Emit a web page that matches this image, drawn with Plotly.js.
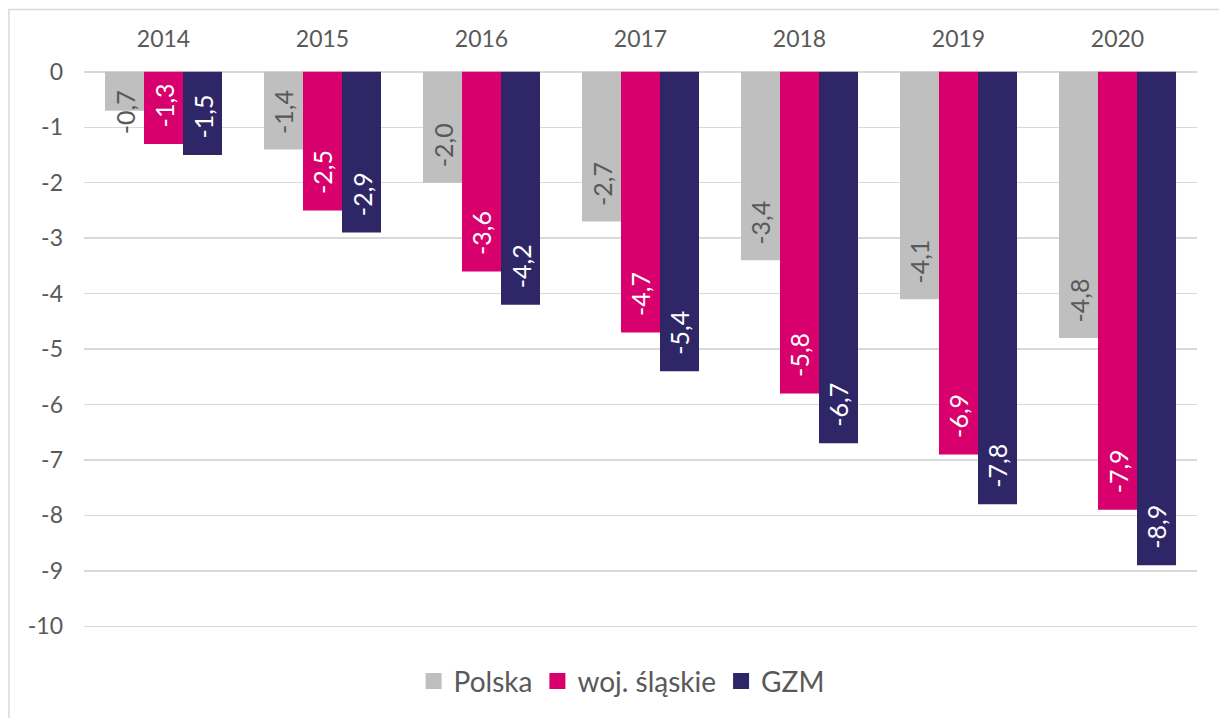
<!DOCTYPE html>
<html>
<head>
<meta charset="utf-8">
<script src="https://cdn.plot.ly/plotly-3.0.1.min.js"></script>
<style>html,body{margin:0;padding:0;background:#fff;}#chart{width:1219px;height:718px;}</style>
</head>
<body>
<div id="chart"></div>
<script>
const years = ['2014', '2015', '2016', '2017', '2018', '2019', '2020'];
const seriesNames = ['Polska', 'woj. śląskie', 'GZM'];
const polska = [-0.7, -1.4, -2.0, -2.7, -3.4, -4.1, -4.8];
const slaskie = [-1.3, -2.5, -3.6, -4.7, -5.8, -6.9, -7.9];
const gzm = [-1.5, -2.9, -4.2, -5.4, -6.7, -7.8, -8.9];
const yTicks = [0, -1, -2, -3, -4, -5, -6, -7, -8, -9, -10];

const colors = ['#BFBFBF', '#D8006D', '#2F2667'];
const labelColors = ['#595959', '#FFFFFF', '#FFFFFF'];
const FONT = 'Lato, "Liberation Sans", sans-serif';
const bargap = 0.264;
const bw = (1 - bargap) / 3;

const allSeries = [polska, slaskie, gzm];
const fmt = v => v.toFixed(1).replace('.', ',');

const traces = allSeries.map((vals, s) => ({
  type: 'bar',
  name: seriesNames[s],
  x: years,
  y: vals,
  marker: {color: colors[s]},
  showlegend: false,
  hoverinfo: 'skip'
}));

// legend proxies with larger square symbols
seriesNames.forEach((name, s) => {
  traces.push({
    type: 'scatter', mode: 'markers',
    name: name,
    x: [null], y: [null],
    marker: {symbol: 'square', size: 16, color: colors[s]},
    showlegend: true,
    hoverinfo: 'skip'
  });
});

const annotations = [];
allSeries.forEach((vals, s) => {
  vals.forEach((v, i) => {
    const shortBar = Math.abs(v) < 1.26;
    annotations.push({
      xref: 'x', yref: 'y',
      x: i + (s - 1) * bw,
      y: shortBar ? 0 : v,
      yanchor: shortBar ? 'top' : 'bottom',
      yshift: shortBar ? -16 : 14,
      xanchor: 'center',
      text: fmt(v),
      textangle: -90,
      showarrow: false,
      font: {family: FONT, size: 25, color: labelColors[s]}
    });
  });
});

const layout = {
  width: 1219, height: 718,
  margin: {l: 84, r: 22, t: 71, b: 62},
  paper_bgcolor: '#FFFFFF', plot_bgcolor: '#FFFFFF',
  bargap: bargap, bargroupgap: 0,
  barmode: 'group',
  font: {family: FONT, color: '#595959'},
  xaxis: {
    type: 'category', side: 'top',
    showgrid: false, showline: false, zeroline: false, ticks: '',
    ticklabelstandoff: 18,
    tickfont: {family: FONT, size: 23, color: '#595959'}
  },
  yaxis: {
    range: [-10.5, 0.015],
    tickvals: yTicks,
    ticktext: yTicks.map(String),
    showgrid: true, gridcolor: '#D9D9D9', gridwidth: 1.5,
    zeroline: true, zerolinecolor: '#D9D9D9', zerolinewidth: 1.5,
    showline: false, ticks: '',
    ticklabelstandoff: 20,
    tickfont: {family: FONT, size: 23, color: '#595959'}
  },
  legend: {
    orientation: 'h', x: 0.483, xanchor: 'center', y: -0.047, yanchor: 'middle',
    font: {family: FONT, size: 28, color: '#595959'},
    traceorder: 'normal', itemclick: false
  },
  shapes: [{
    type: 'rect', xref: 'paper', yref: 'paper', layer: 'below',
    x0: -0.0674, x1: 1.04, y0: -0.3, y1: 1.1053,
    line: {color: '#D9D9D9', width: 1.5}, fillcolor: 'rgba(0,0,0,0)'
  }],
  annotations: annotations
};

Plotly.newPlot('chart', traces, layout, {displayModeBar: false, staticPlot: true});
</script>
</body>
</html>
